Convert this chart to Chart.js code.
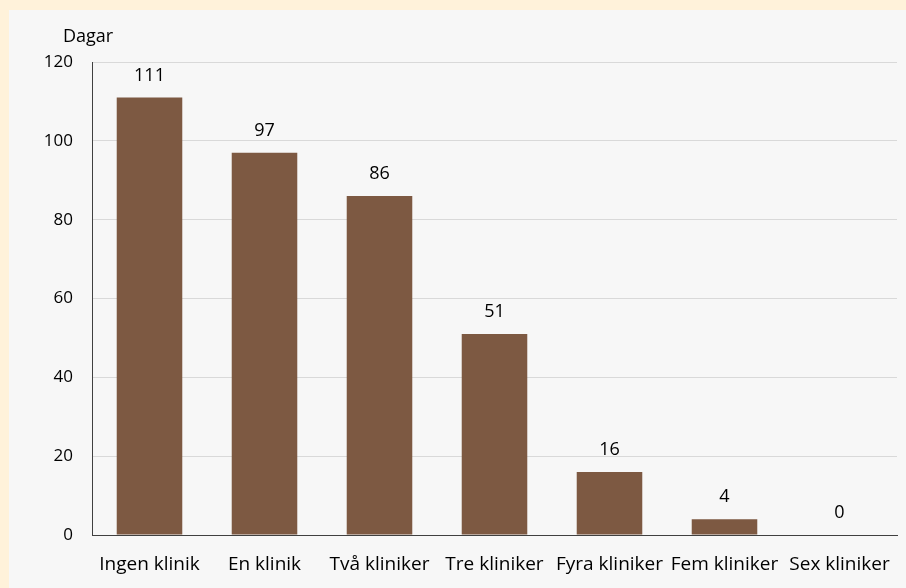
<!DOCTYPE html>
<html>
<head>
<meta charset="utf-8">
<script src="https://cdn.jsdelivr.net/npm/chart.js@4"></script>
<style>
  html, body { margin: 0; padding: 0; background: #FFF2DA; }
  #panel { position: absolute; left: 9px; top: 10px; width: 897px; height: 578px; background: #F7F7F7; }
</style>
</head>
<body>
<div id="panel"><canvas id="chart"></canvas></div>
<script>
const kategorier = ["Ingen klinik", "En klinik", "Två kliniker", "Tre kliniker", "Fyra kliniker", "Fem kliniker", "Sex kliniker"];
const dagar = [111, 97, 86, 51, 16, 4, 0];
const yTicks = [0, 20, 40, 60, 80, 100, 120];
const yTitel = "Dagar";

const FONT = "'Open Sans', sans-serif";

// värden ovanför staplarna
const valueLabels = {
    id: "valueLabels",
    afterDatasetsDraw(chart) {
        const { ctx } = chart;
        const meta = chart.getDatasetMeta(0);
        ctx.save();
        ctx.fillStyle = "#000";
        ctx.font = "18px " + FONT;
        ctx.textAlign = "center";
        ctx.textBaseline = "middle";
        meta.data.forEach((bar, i) => {
            ctx.fillText(String(dagar[i]), bar.x, bar.y - 22);
        });
        ctx.restore();
    }
};

const axisTitle = {
    id: "axisTitle",
    afterDraw(chart) {
        const { ctx, chartArea } = chart;
        ctx.save();
        ctx.fillStyle = "#000";
        ctx.font = "18px " + FONT;
        ctx.textAlign = "left";
        ctx.textBaseline = "middle";
        ctx.fillText(yTitel, chartArea.left - 29, chartArea.top - 25);
        ctx.restore();
    }
};

new Chart(document.getElementById("chart"), {
    type: "bar",
    data: {
        labels: kategorier,
        datasets: [{ data: dagar, backgroundColor: "#7D5942", barPercentage: 0.57, categoryPercentage: 1 }]
    },
    options: {
        responsive: true,
        maintainAspectRatio: false,
        animation: false,
        layout: { padding: { top: 52, right: 9, left: 0, bottom: 0 } },
        plugins: { legend: { display: false }, tooltip: { enabled: false } },
        scales: {
            x: {
                grid: { display: false },
                border: { color: "#404040", width: 1 },
                ticks: { color: "#000", font: { family: FONT, size: 19 }, padding: 10, maxRotation: 0, autoSkip: false },
                afterFit(scale) { scale.height = 53; }
            },
            y: {
                min: 0,
                max: 120,
                afterBuildTicks(scale) { scale.ticks = yTicks.map(v => ({ value: v })); },
                grid: { color: "#D9D9D9", drawTicks: false },
                border: { color: "#404040", width: 1 },
                ticks: { color: "#000", font: { family: FONT, size: 17 }, padding: 19 },
                afterFit(scale) { scale.width = 83; }
            }
        }
    },
    plugins: [valueLabels, axisTitle]
});
</script>
</body>
</html>
